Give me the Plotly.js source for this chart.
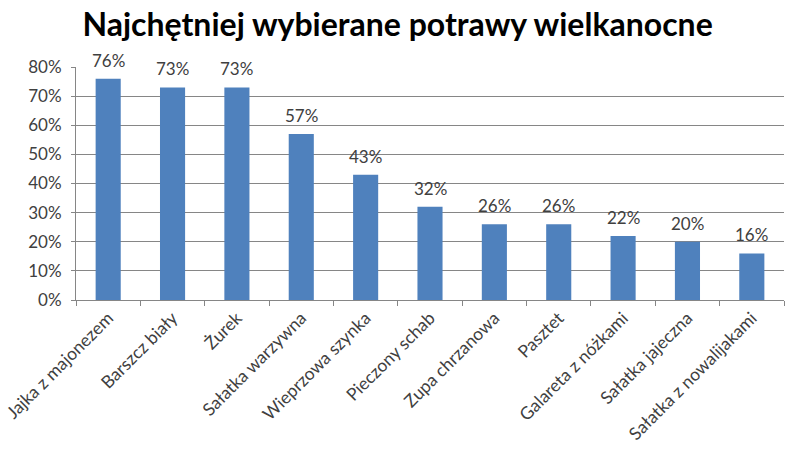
<!DOCTYPE html>
<html><head><meta charset="utf-8">
<script src="https://cdn.plot.ly/plotly-3.0.1.min.js"></script>
<style>html,body{margin:0;padding:0;background:#fff}</style>
</head><body><div id="chart" style="width:800px;height:451px"></div>
<script>
const categories = ["Jajka z majonezem","Barszcz biały","Żurek","Sałatka warzywna","Wieprzowa szynka","Pieczony schab","Zupa chrzanowa","Pasztet","Galareta z nóżkami","Sałatka jajeczna","Sałatka z nowalijakami"];
const values = [76,73,73,57,43,32,26,26,22,20,16];
const yTicks = [0,10,20,30,40,50,60,70,80];
const yTickLabels = yTicks.map(v => v + "%");

const font = "Lato, 'Open Sans', sans-serif";
const labels = categories.map((c, i) => ({
  x: c, y: values[i], xref: "x", yref: "y",
  text: values[i] + "%", showarrow: false,
  yanchor: "bottom", yshift: 6,
  font: {family: font, size: 17, color: "#404040"}
}));
Plotly.newPlot("chart", [{
  type: "bar",
  x: categories,
  y: values,
  marker: {color: "#4f81bd"},
  hoverinfo: "none"
}], {
  width: 800, height: 451,
  margin: {l: 76, r: 16, t: 67, b: 151},
  paper_bgcolor: "#fff", plot_bgcolor: "#fff",
  bargap: 0.61,
  showlegend: false,
  annotations: labels,
  title: {text: "<b>Najchętniej wybierane potrawy wielkanocne</b>", font: {family: font, size: 32, color: "#000"}, x: 0.497, xanchor: "center", y: 0.945, yanchor: "middle"},
  xaxis: {
    tickangle: -45,
    tickfont: {family: font, size: 17.5, color: "#404040"},
    showline: true, linecolor: "#868686", linewidth: 1,
    ticks: "outside", ticklen: 5, tickcolor: "#868686",
    tickson: "boundaries",
    showgrid: false, zeroline: false
  },
  yaxis: {
    range: [0, 80],
    tickvals: yTicks, ticktext: yTickLabels,
    tickfont: {family: font, size: 17, color: "#404040"},
    showline: true, linecolor: "#868686", linewidth: 1,
    ticks: "outside", ticklen: 4, tickcolor: "#868686",
    showgrid: true, gridcolor: "#868686", gridwidth: 1,
    zeroline: false, ticklabelstandoff: 6
  }
}, {displayModeBar: false, staticPlot: true});
</script></body></html>
